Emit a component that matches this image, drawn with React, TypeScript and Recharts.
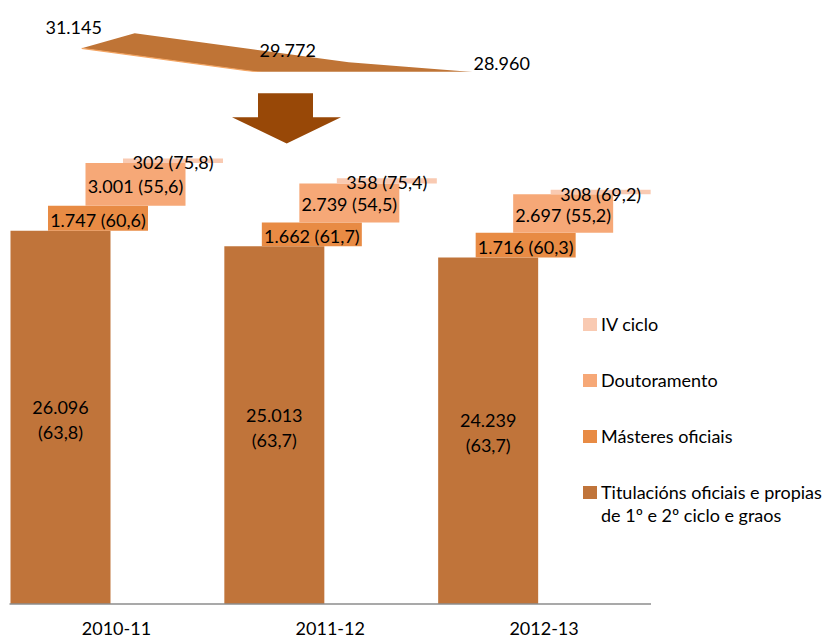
import React from 'react';
import { BarChart, Bar, XAxis, YAxis, LabelList, Legend, LineChart, Line } from 'recharts';

const years = ['2010-11', '2011-12', '2012-13'];
const titulacions = [26096, 25013, 24239];
const titulacionsPct = [63.8, 63.7, 63.7];
const masteres = [1747, 1662, 1716];
const masteresPct = [60.6, 61.7, 60.3];
const doutoramento = [3001, 2739, 2697];
const doutoramentoPct = [55.6, 54.5, 55.2];
const ivCiclo = [302, 358, 308];
const ivCicloPct = [75.8, 75.4, 69.2];
const totals = [31145, 29772, 28960];

const seriesNames = [
  'Titulacións oficiais e propias de 1º e 2º ciclo e graos',
  'Másteres oficiais',
  'Doutoramento',
  'IV ciclo',
];
const seriesColors = ['#C0743A', '#E88B44', '#F6A877', '#F9CAB2'];

const FONT = 'Lato, "Open Sans", sans-serif';
const DEPTH_X = 53;
const DEPTH_Y = 15;

// stacked ranges for the floating bars
const barData = years.map((year, i) => {
  const a = titulacions[i];
  const b = a + masteres[i];
  const c = b + doutoramento[i];
  const d = c + ivCiclo[i];
  return { year, tit: [0, a], mas: [a, b], dou: [b, c], iv: [c, d] };
});

const totalsData = years.map((year, i) => ({ pos: i, year, total: totals[i] }));

const fmtInt = (n: number) => String(n).replace(/\B(?=(\d{3})+(?!\d))/g, '.');
const fmtPct = (n: number) => n.toFixed(1).replace('.', ',');

const getBox = (p: any) => {
  const vb = p.viewBox && p.viewBox.width !== undefined ? p.viewBox : p;
  return { x: vb.x ?? p.x, y: vb.y ?? p.y, width: vb.width ?? 0, height: vb.height ?? 0 };
};

const makeLabel = (values: number[], pcts: number[]) => (props: any) => {
  const { x, y, width, height } = getBox(props);
  const i = props.index;
  return (
    <text
      x={x + width / 2}
      y={y + height / 2 + 1.5}
      textAnchor="middle"
      dominantBaseline="central"
      fontFamily={FONT}
      fontSize={18}
      fill="#000"
    >
      {`${fmtInt(values[i])} (${fmtPct(pcts[i])})`}
    </text>
  );
};

const titLabel = (props: any) => {
  const { x, y, width, height } = getBox(props);
  const i = props.index;
  const cx = x + width / 2;
  const cy = y + height / 2;
  return (
    <g>
      <text x={cx} y={cy - 10.5} textAnchor="middle" dominantBaseline="central" fontFamily={FONT} fontSize={18} fill="#000">
        {fmtInt(titulacions[i])}
      </text>
      <text x={cx} y={cy + 14.5} textAnchor="middle" dominantBaseline="central" fontFamily={FONT} fontSize={18} fill="#000">
        {`(${fmtPct(titulacionsPct[i])})`}
      </text>
    </g>
  );
};

// 3D ribbon of the totals, built from the line's own points
const ribbonPts: { x: number; y: number }[] = [];
const renderRibbon = (props: any) => {
  const { cx, cy, index } = props;
  if (index === 0) ribbonPts.length = 0;
  ribbonPts.push({ x: cx, y: cy });
  if (index !== totals.length - 1) return <g key={`rb-${index}`} />;
  const pts: { x: number; y: number }[] =
    Array.isArray(props.points) && props.points.length === totals.length ? props.points : ribbonPts;
  const front = pts.map((p) => `${p.x},${p.y}`);
  const back = pts.map((p) => `${p.x + DEPTH_X},${p.y - DEPTH_Y}`).reverse();
  return (
    <g key="ribbon">
      <path d={`M${front.join(' L')} L${back.join(' L')} Z`} fill="#BF7436" />
      <path d={`M${front.join(' L')}`} fill="none" stroke="#F3A462" strokeWidth={1.3} />
    </g>
  );
};

const totalLabel = (props: any) => {
  const vb = props.viewBox || {};
  const x = vb.x ?? props.x;
  const y = vb.y ?? props.y;
  return (
    <text x={x - 8} y={y} textAnchor="middle" dominantBaseline="central" fontFamily={FONT} fontSize={18} fill="#000">
      {fmtInt(totals[props.index])}
    </text>
  );
};

const renderLegend = () => (
  <div style={{ fontFamily: FONT, fontSize: 18, color: '#000' }}>
    {[3, 2, 1, 0].map((i) => (
      <div key={i} style={{ display: 'flex', alignItems: 'flex-start', marginBottom: 33, lineHeight: '23px' }}>
        <span style={{ width: 14, height: 13, background: seriesColors[i], marginTop: 5, marginRight: 4, flex: 'none' }} />
        <span style={{ width: 226 }}>{seriesNames[i]}</span>
      </div>
    ))}
  </div>
);

export default function App() {
  return (
    <div style={{ position: 'relative', width: 830, height: 639, background: '#fff', overflow: 'hidden' }}>
      <style>{'body{margin:0}'}</style>
      <div style={{ position: 'absolute', left: 0, top: 0 }}>
        <BarChart
          width={830}
          height={639}
          data={barData}
          margin={{ top: 32, right: 179, left: 9.5, bottom: 0 }}
          barSize={100}
          barGap={-62.5}
          barCategoryGap={1}
        >
          <XAxis
            dataKey="year"
            height={35}
            tickLine={false}
            axisLine={{ stroke: '#8C8C8C', strokeWidth: 1.5 }}
            tickMargin={12}
            tick={{ fontFamily: FONT, fontSize: 18, fill: '#000' }}
          />
          <YAxis hide domain={[0, 40000]} />
          <Bar dataKey="tit" name={seriesNames[0]} fill={seriesColors[0]} isAnimationActive={false}>
            <LabelList content={titLabel} />
          </Bar>
          <Bar dataKey="mas" name={seriesNames[1]} fill={seriesColors[1]} isAnimationActive={false}>
            <LabelList content={makeLabel(masteres, masteresPct)} />
          </Bar>
          <Bar dataKey="dou" name={seriesNames[2]} fill={seriesColors[2]} isAnimationActive={false}>
            <LabelList content={makeLabel(doutoramento, doutoramentoPct)} />
          </Bar>
          <Bar dataKey="iv" name={seriesNames[3]} fill={seriesColors[3]} isAnimationActive={false}>
            <LabelList content={makeLabel(ivCiclo, ivCicloPct)} />
          </Bar>
          <Legend
            layout="vertical"
            align="center"
            verticalAlign="middle"
            wrapperStyle={{ left: 583, top: 313, width: 247 }}
            content={renderLegend}
          />
        </BarChart>
      </div>

      <div style={{ position: 'absolute', left: 0, top: 0 }}>
        <LineChart
          width={830}
          height={90}
          data={totalsData}
          margin={{ top: 0, right: 234.7, left: 17.5, bottom: 18.3 }}
        >
          <XAxis type="number" dataKey="pos" domain={[-0.3, 2.4]} hide />
          <YAxis yAxisId="rib" hide domain={[30031, 33445]} allowDataOverflow />
          <YAxis yAxisId="lbl" hide domain={[28450, 32802]} />
          <Line
            yAxisId="rib"
            dataKey="total"
            stroke="none"
            dot={renderRibbon}
            activeDot={false}
            isAnimationActive={false}
          />
          <Line
            yAxisId="lbl"
            dataKey="total"
            stroke="none"
            dot={false}
            activeDot={false}
            isAnimationActive={false}
          >
            <LabelList content={totalLabel} />
          </Line>
        </LineChart>
      </div>

      <svg width={830} height={639} style={{ position: 'absolute', left: 0, top: 0, pointerEvents: 'none' }}>
        <polygon points="258,93.3 313,93.3 313,117.3 341,117.3 286.7,143.5 232,117.3 258,117.3" fill="#984807" />
      </svg>
    </div>
  );
}
